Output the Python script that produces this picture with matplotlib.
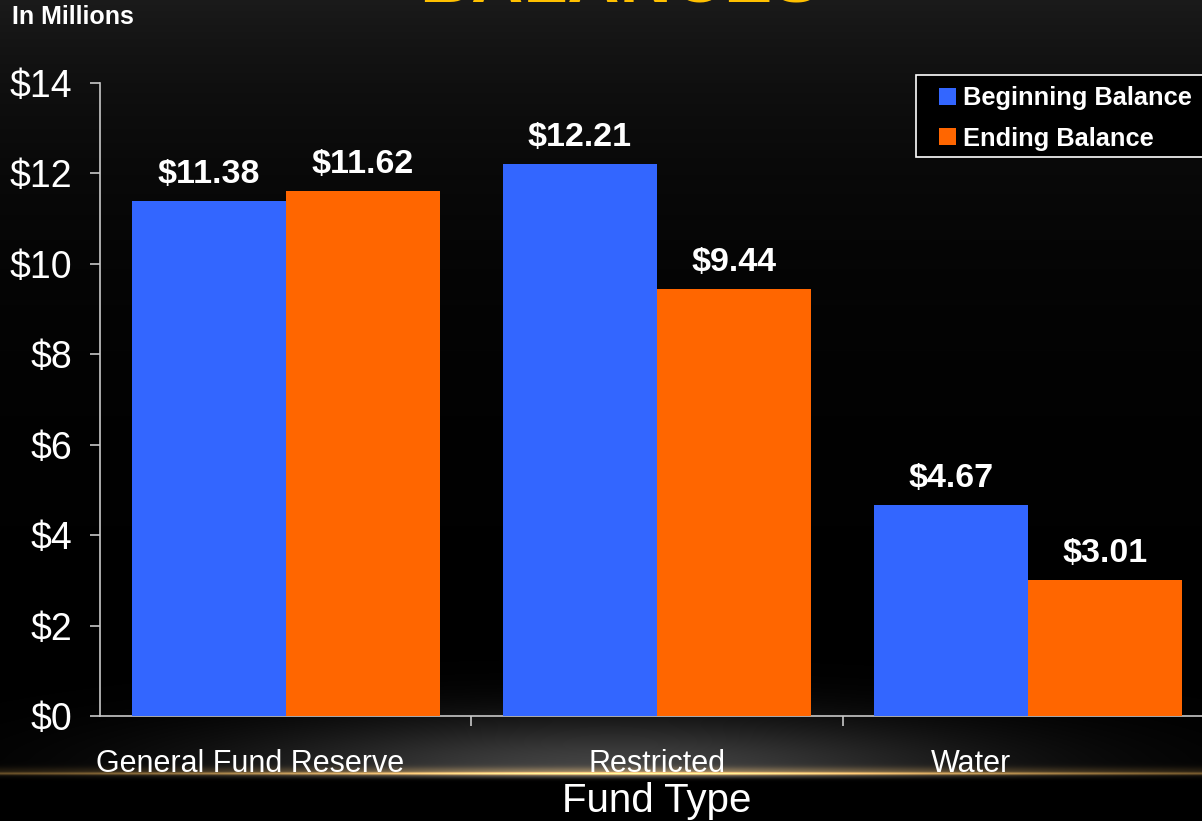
import numpy as np
import matplotlib
matplotlib.use('Agg')
import matplotlib.pyplot as plt
import matplotlib.transforms as mtransforms
from matplotlib.patches import Patch, Rectangle

"""data"""
categories = ['General Fund Reserve', 'Restricted', 'Water']
beginning = [11.38, 12.21, 4.67]
ending = [11.62, 9.44, 3.01]
series_names = ['Beginning Balance', 'Ending Balance']
yticks = [0, 2, 4, 6, 8, 10, 12, 14]
ytick_labels = ['$' + str(v) for v in yticks]

blue = '#3366FF'
orange = '#FF6600'
W, H = 1202, 821

plt.rcParams['font.family'] = ['Liberation Sans', 'DejaVu Sans']

fig = plt.figure(figsize=(W / 100, H / 100), dpi=100)
fig.patch.set_facecolor('black')

"""background: dark gradient, grey glow and gold line"""
yy, xx = np.mgrid[0:H, 0:W].astype(float)
grey = 0.105 * np.exp(-yy / 160.0)
glow = 0.26 * np.exp(-((xx - 610) / 360.0) ** 2) * np.exp(-((yy - 768) / 50.0) ** 2)
below = yy > 775
glow[below] *= np.exp(-((yy[below] - 775) / 3.0) ** 2)
grey = grey + glow
line = 0.75 * np.exp(-((yy - 773) / 1.4) ** 2) + 0.3 * np.exp(-((yy - 771) / 4.5) ** 2)
line *= 0.3 + 0.7 * np.exp(-((xx - 640) / 450.0) ** 2)
gold = np.array([0.98, 0.74, 0.36])
img = grey[..., None] + line[..., None] * gold[None, None, :]
img = np.clip(img, 0, 1)

bg = fig.add_axes([0, 0, 1, 1], zorder=-10)
bg.imshow(img, aspect='auto', extent=(0, W, H, 0), interpolation='bilinear')
bg.axis('off')

"""main chart"""
ax = fig.add_axes([100 / W, 1 - 716 / H, 1114 / W, (716 - 83) / H])
ax.patch.set_alpha(0)

x = np.arange(len(categories))
w = 0.415
b1 = ax.bar(x - w / 2, beginning, w, color=blue, zorder=3)
b2 = ax.bar(x + w / 2, ending, w, color=orange, zorder=3)

for bars, vals in ((b1, beginning), (b2, ending)):
    for rect, v in zip(bars, vals):
        ax.annotate('$%.2f' % v, (rect.get_x() + rect.get_width() / 2, v),
                    xytext=(0, 13), textcoords='offset points',
                    ha='center', va='baseline', color='white',
                    fontsize=24.5, fontweight='bold')

ax.set_xlim(-0.5, 2.5)
ax.set_ylim(0, 14)
ax.set_yticks(yticks)
ax.set_yticklabels(ytick_labels)

spine_col = '#c8c8c8'
for s in ['top', 'right']:
    ax.spines[s].set_visible(False)
for s in ['left', 'bottom']:
    ax.spines[s].set_color(spine_col)
    ax.spines[s].set_linewidth(1.2)

ax.tick_params(axis='y', colors=spine_col, labelcolor='white', labelsize=27,
               length=7, width=1.2, pad=13)

# boundaries as major ticks, category names as minor ticks
ax.set_xticks([0.5, 1.5])
ax.set_xticklabels([])
ax.set_xticks(x, minor=True)
ax.set_xticklabels(categories, minor=True)
ax.tick_params(axis='x', which='major', colors=spine_col, length=7, width=1.2)
ax.tick_params(axis='x', which='minor', length=0, labelcolor='white',
               labelsize=22, pad=24)

shifts = [-36, 0, -57]
for lab, dx in zip(ax.get_xticklabels(minor=True), shifts):
    lab.set_transform(lab.get_transform() +
                      mtransforms.ScaledTranslation(dx / 100, 0, fig.dpi_scale_trans))

fig.text(657 / W, 1 - 812 / H, 'Fund Type', color='white', fontsize=29,
         ha='center', va='baseline')
fig.text(12 / W, 1 - 24 / H, 'In Millions', color='white', fontsize=18,
         fontweight='bold', ha='left', va='baseline')
fig.text(620 / W, 1 - 1 / H, 'BALANCES', color='#FFC000', fontsize=52,
         fontweight='bold', ha='center', va='baseline')

# legend box drawn separately so it runs off the right edge like the original
box = Rectangle((916 / W, 1 - 157 / H), 310 / W, 82 / H, transform=fig.transFigure,
                facecolor='black', edgecolor='white', linewidth=1.2, zorder=4)
fig.add_artist(box)

handles = [Patch(facecolor=blue), Patch(facecolor=orange)]
leg = fig.legend(handles, series_names, loc='upper left',
                 bbox_to_anchor=(939 / W, 1 - 86 / H), borderaxespad=0,
                 prop={'weight': 'bold', 'size': 18.3}, frameon=False,
                 handlelength=0.65, handleheight=0.65, handletextpad=0.3,
                 labelspacing=0.66, borderpad=0)
leg.set_zorder(5)
for t in leg.get_texts():
    t.set_color('white')

plt.savefig('out.png', dpi=100, facecolor=fig.get_facecolor())
